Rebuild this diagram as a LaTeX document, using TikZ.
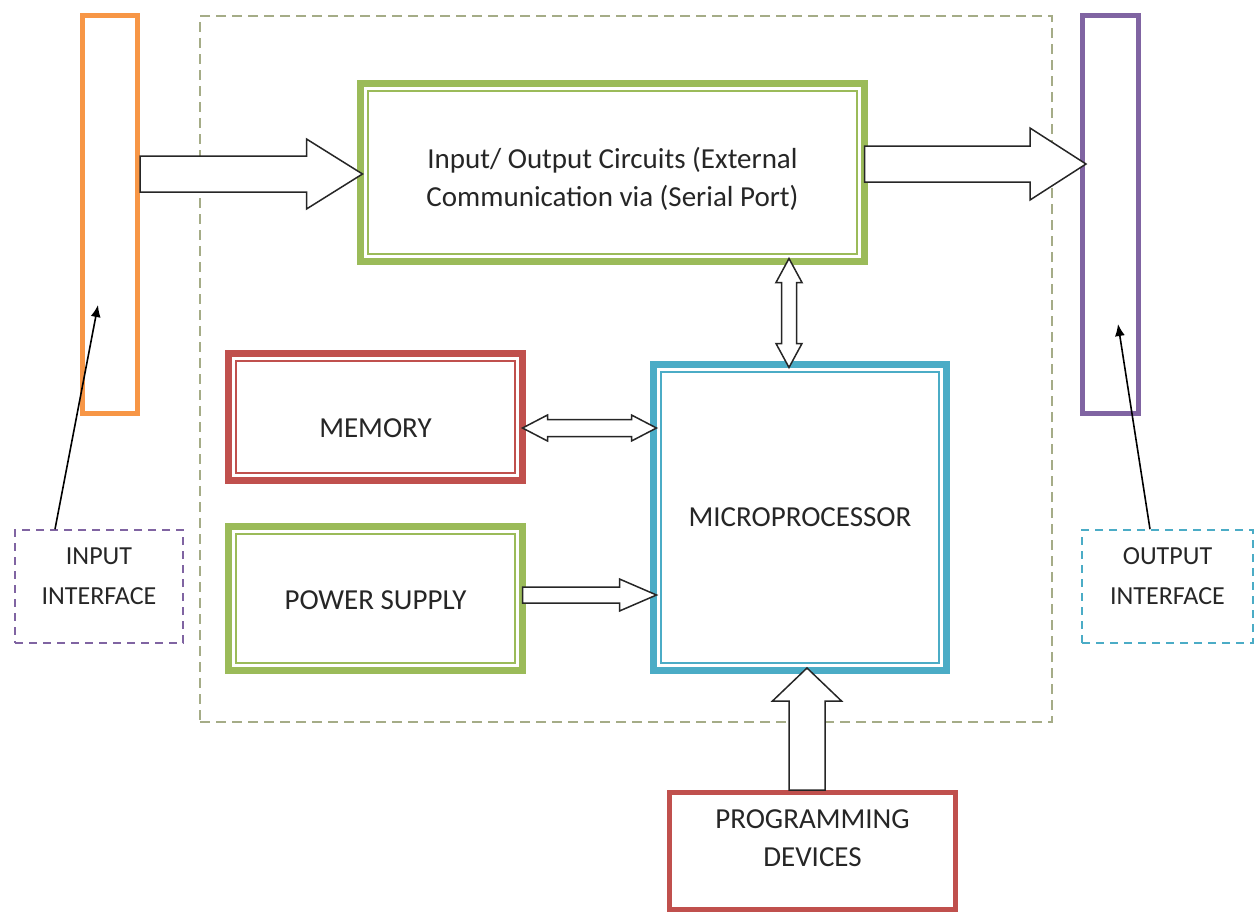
\documentclass[tikz,border=0pt]{standalone}
\usepackage{fontspec}
\setmainfont{Carlito}
\usetikzlibrary{calc,arrows.meta}

\definecolor{ioGreen}{RGB}{155,187,89}
\definecolor{memRed}{RGB}{192,80,77}
\definecolor{cpuBlue}{RGB}{75,172,198}
\definecolor{inOrange}{RGB}{247,150,70}
\definecolor{outPurple}{RGB}{128,100,162}
\definecolor{boardGrey}{RGB}{165,172,135}

\tikzset{
  dblbox/.style={draw=#1,line width=3.5pt,fill=white,outer sep=0pt},
  txt/.style={font=\fontsize{14.5}{19}\selectfont,text=black!85,align=center},
  iftxt/.style={font=\fontsize{13}{20}\selectfont,text=black!85,align=center},
  progbox/.style={draw=memRed,line width=2.5pt},
  barbox/.style={draw=#1,line width=2.5pt},
  ifbox/.style={draw=#1,line width=0.8pt,dash pattern=on 4pt off 3pt},
  blockarr/.style={draw=black!85,line width=0.75pt,fill=white,line join=miter},
  thinarr/.style={draw=black,line width=0.8pt,-{Latex[length=6pt,width=5pt]}}
}

% block arrow: start, tip, shaft half width, head half width, head length
\newcommand{\blockarrow}[5]{%
  \coordinate (ba-h) at ($(#2)!#5!(#1)$);
  \draw[blockarr] ($(#1)!#3!90:(#2)$) -- ($(ba-h)!#3!90:(#2)$) -- ($(ba-h)!#4!90:(#2)$)
    -- (#2) -- ($(ba-h)!#4!-90:(#2)$) -- ($(ba-h)!#3!-90:(#2)$) -- ($(#1)!#3!-90:(#2)$) -- cycle;
}
% double headed block arrow
\newcommand{\dblarrow}[5]{%
  \coordinate (ba-a) at ($(#1)!#5!(#2)$);
  \coordinate (ba-b) at ($(#2)!#5!(#1)$);
  \draw[blockarr] (#1) -- ($(ba-a)!#4!90:(#2)$) -- ($(ba-a)!#3!90:(#2)$) -- ($(ba-b)!#3!-90:(#1)$)
    -- ($(ba-b)!#4!-90:(#1)$) -- (#2) -- ($(ba-b)!#4!90:(#1)$) -- ($(ba-b)!#3!90:(#1)$)
    -- ($(ba-a)!#3!-90:(#2)$) -- ($(ba-a)!#4!-90:(#2)$) -- cycle;
}

\begin{document}
\begin{tikzpicture}[x=0.5pt,y=-0.5pt]
    \useasboundingbox (0,0) rectangle (1255,917);

    % controller board
    \node[draw=boardGrey,line width=0.8pt,dash pattern=on 5pt off 3pt,minimum width=426pt,minimum height=353pt] (board) at (626,369) {};

    % interface bars
    \node[barbox=inOrange,minimum width=27.5pt,minimum height=199pt] (inbar) at (110,214.5) {};
    \node[barbox=outPurple,minimum width=28pt,minimum height=199pt] (outbar) at (1110.5,214.5) {};

    % main blocks
    \node[dblbox=ioGreen,minimum width=252pt,minimum height=89pt] (io) at (612.5,172.5) {};
    \node[dblbox=memRed,minimum width=147pt,minimum height=63.5pt] (mem) at (375.5,417) {};
    \node[dblbox=ioGreen,minimum width=147pt,minimum height=72pt] (power) at (375.5,598.5) {};
    \node[dblbox=cpuBlue,minimum width=146.5pt,minimum height=153pt] (cpu) at (800,517.5) {};

    % inner lines of the double borders
    \foreach \bx/\col in {io/ioGreen,mem/memRed,power/ioGreen,cpu/cpuBlue}
        \draw[draw=\col,line width=0.8pt] ($(\bx.north west)+(7.5,7.5)$) rectangle ($(\bx.south east)+(-7.5,-7.5)$);

    \node[txt] (iotxt) at (612.5,179) {Input/ Output Circuits (External\\ Communication via (Serial Port)};
    \node[txt] (memtxt) at (375.5,428) {MEMORY};
    \node[txt] (powtxt) at (375.5,600) {POWER SUPPLY};
    \node[txt] (cputxt) at (800,517) {MICROPROCESSOR};

    % programming devices
    \node[progbox,minimum width=143pt,minimum height=58.5pt] (prog) at (812.5,851) {};
    \node[txt] (progtxt) at (812.5,838) {PROGRAMMING\\ DEVICES};

    % interface labels
    \node[ifbox=outPurple,minimum width=84pt,minimum height=56.5pt] (inif) at (99,586.5) {};
    \node[iftxt] (iniftxt) at (99,576) {INPUT\\ INTERFACE};
    \node[ifbox=cpuBlue,minimum width=85.5pt,minimum height=56.5pt] (outif) at (1167.5,586.5) {};
    \node[iftxt] (outiftxt) at (1167.5,576) {OUTPUT\\ INTERFACE};

    % block arrows
    \coordinate (inS) at (inbar.east |- 0,174);
    \coordinate (inE) at ([xshift=1pt]io.west |- inS);
    \blockarrow{inS}{inE}{9pt}{17.5pt}{28pt}
    \coordinate (outS) at ([yshift=4.25pt]io.east);
    \coordinate (outE) at ([xshift=3pt]outbar.west |- outS);
    \blockarrow{outS}{outE}{9pt}{18pt}{28pt}
    \coordinate (memS) at ([yshift=-5.5pt]mem.east);
    \coordinate (memE) at ([xshift=1.5pt]cpu.west |- memS);
    \dblarrow{memS}{memE}{4.25pt}{6.5pt}{12.5pt}
    \coordinate (powS) at ([yshift=1.75pt]power.east);
    \coordinate (powE) at ([xshift=1.5pt]cpu.west |- powS);
    \blockarrow{powS}{powE}{4pt}{8pt}{18.5pt}
    \coordinate (ioS) at ([xshift=-5.5pt,yshift=1.5pt]cpu.north |- io.south);
    \coordinate (ioE) at ([yshift=-1.5pt]cpu.north -| ioS);
    \dblarrow{ioS}{ioE}{3.75pt}{6.5pt}{12pt}
    \coordinate (progS) at ([xshift=-2.75pt]prog.north);
    \coordinate (progE) at ([yshift=1.25pt]cpu.south -| progS);
    \blockarrow{progS}{progE}{9pt}{17.25pt}{16.5pt}

    % pointers to the bars
    \coordinate (intip) at (98,305);
    \coordinate (outtip) at (1118,324);
    \draw[thinarr] ([xshift=-22pt]inif.north) -- (intip);
    \draw[thinarr] ([xshift=-8.75pt]outif.north) -- (outtip);
\end{tikzpicture}
\end{document}
